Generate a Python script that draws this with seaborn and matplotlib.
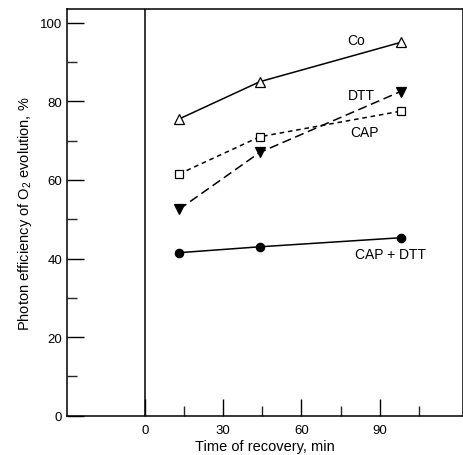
import pandas as pd
import seaborn as sns
import matplotlib.pyplot as plt
from matplotlib.ticker import MultipleLocator, FixedLocator

# recovery time (min) and photon efficiency (%)
time_min = [13, 44, 98]
co = [75.5, 85, 95]
dtt = [52.5, 67, 82.5]
cap = [61.5, 71, 77.5]
cap_dtt = [41.5, 43, 45.3]

series = ['Co', 'DTT', 'CAP', 'CAP + DTT']
df = pd.DataFrame({
    'time': time_min * 4,
    'eff': co + dtt + cap + cap_dtt,
    'treatment': [s for s in series for _ in time_min],
})

sns.set_style('ticks')
plt.rcParams['font.family'] = ['Liberation Sans', 'DejaVu Sans']
plt.rcParams['mathtext.fontset'] = 'custom'
plt.rcParams['mathtext.rm'] = 'Liberation Sans'
plt.rcParams['text.color'] = 'black'
plt.rcParams['axes.labelcolor'] = 'black'

fig = plt.figure(figsize=(4.64, 4.56), dpi=100)
ax = fig.add_axes([0.144, 0.086, 0.854, 0.892])

styles = {
    'Co': dict(ls='-', marker='^', mfc='white', ms=6.5),
    'DTT': dict(ls=(0, (6, 3)), marker='v', mfc='black', ms=6.5),
    'CAP': dict(ls=(0, (3, 2.5)), marker='s', mfc='white', ms=5.5),
    'CAP + DTT': dict(ls='-', marker='o', mfc='black', ms=6),
}
for name in series:
    st = styles[name]
    sub = df[df['treatment'] == name]
    sns.lineplot(data=sub, x='time', y='eff', ax=ax, color='black', lw=1.1,
                 linestyle=st['ls'], marker=st['marker'], markersize=st['ms'],
                 markerfacecolor=st['mfc'], markeredgecolor='black',
                 markeredgewidth=0.9, legend=False)

ax.axvline(0, color='black', lw=1.1)

ax.set_xlim(-30, 122)
ax.set_ylim(0, 103.5)
ax.set_xticks([0, 30, 60, 90])
ax.xaxis.set_minor_locator(FixedLocator([15, 45, 75, 105]))
ax.set_yticks([0, 20, 40, 60, 80, 100])
ax.yaxis.set_minor_locator(MultipleLocator(10))
ax.tick_params(axis='both', which='major', direction='in', length=12, width=1,
               labelsize=9.5, colors='black')
ax.tick_params(axis='x', which='major', pad=6)
ax.tick_params(axis='both', which='minor', direction='in', length=7, width=1)
for sp in ax.spines.values():
    sp.set_linewidth(1.1)
    sp.set_color('black')

ax.set_xlabel('Time of recovery, min', fontsize=10.5, labelpad=2)
ax.set_ylabel('Photon efficiency of O$_2$ evolution, %', fontsize=10.5, labelpad=4)

ax.text(81, 95.5, 'Co', fontsize=10, ha='center', va='center')
ax.text(83, 81.5, 'DTT', fontsize=10, ha='center', va='center')
ax.text(84, 72.3, 'CAP', fontsize=10, ha='center', va='center')
ax.text(94, 41.2, 'CAP + DTT', fontsize=10, ha='center', va='center')

fig.savefig('out.png', dpi=100)
